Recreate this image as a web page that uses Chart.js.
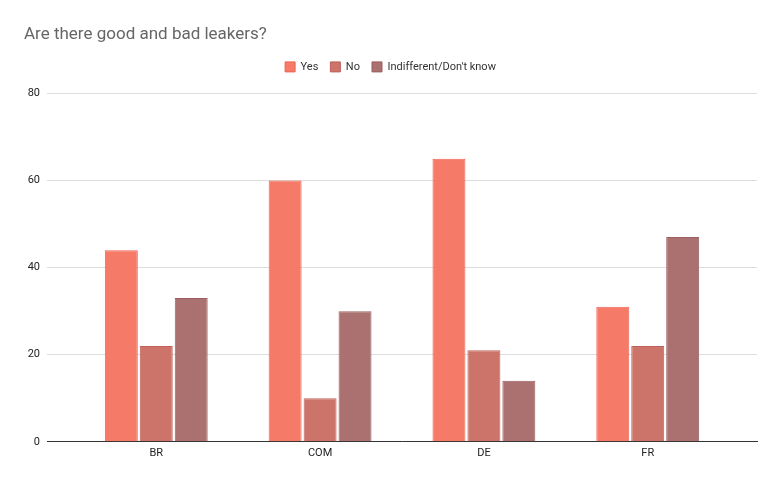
<!DOCTYPE html>
<html>
<head>
<meta charset="utf-8">
<script src="https://cdn.jsdelivr.net/npm/chart.js@4/dist/chart.umd.min.js"></script>
<style>
  html, body { margin: 0; padding: 0; background: #fff; }
  #wrap { width: 782px; height: 483px; }
</style>
</head>
<body>
<div id="wrap"><canvas id="chart"></canvas></div>
<script>
const categories = ["BR", "COM", "DE", "FR"];
const yesValues = [44, 60, 65, 31];
const noValues = [22, 10, 21, 22];
const indifferentValues = [33, 30, 14, 47];
const yTicks = [0, 20, 40, 60, 80];

const font = "Roboto, Arial, sans-serif";
const xSidePad = 0.167; // empty room left/right of the groups, in category units

function makeSet(label, data, fill, border) {
    return {
        label,
        data,
        backgroundColor: fill,
        borderColor: border,
        borderWidth: 1,
        categoryPercentage: 0.64,
        barPercentage: 0.943,
    };
}

// extra space under the legend
const legendGap = {
    id: "legendGap",
    beforeInit(chart) {
        if (!chart.legend) return;
        const legendFit = chart.legend.fit;
        chart.legend.fit = function () {
            legendFit.call(this);
            this.height += 11;
        };
    },
};

const ctx = document.getElementById("chart").getContext("2d");
new Chart(ctx, {
    type: "bar",
    data: {
        labels: categories,
        datasets: [
            makeSet("Yes", yesValues, "rgb(246,122,104)", "rgb(238,100,86)"),
            makeSet("No", noValues, "rgb(205,116,106)", "rgb(192,96,88)"),
            makeSet("Indifferent/Don't know", indifferentValues, "rgb(171,113,113)", "rgb(156,94,96)"),
        ],
    },
    options: {
        responsive: true,
        maintainAspectRatio: false,
        animation: false,
        layout: { padding: { left: 24, right: 25, top: 25, bottom: 18 } },
        plugins: {
            title: {
                display: true,
                text: "Are there good and bad leakers?",
                align: "start",
                color: "#666",
                font: { family: font, size: 17, weight: "normal" },
                padding: { top: 0, bottom: 4 },
            },
            legend: {
                position: "top",
                labels: {
                    boxWidth: 10,
                    boxHeight: 10,
                    color: "#333",
                    font: { family: font, size: 11 },
                    padding: 12,
                },
            },
            tooltip: { enabled: false },
        },
        scales: {
            x: {
                // widen the x range so the groups sit inside the grid like the original
                afterBuildTicks: (scale) => {
                    scale._startValue -= xSidePad;
                    scale._valueRange += 2 * xSidePad;
                },
                grid: { display: false, drawTicks: false },
                border: { color: "#333", width: 1 },
                ticks: { color: "#222", font: { family: font, size: 11 }, padding: 5 },
            },
            y: {
                min: 0,
                max: 80,
                afterBuildTicks: (scale) => {
                    scale.ticks = yTicks.map((v) => ({ value: v }));
                },
                afterFit: (scale) => {
                    scale.width = 23;
                },
                grid: { color: "#ddd", drawTicks: false },
                border: { display: false },
                ticks: { color: "#222", font: { family: font, size: 11 }, padding: 7 },
            },
        },
    },
    plugins: [legendGap],
});
</script>
</body>
</html>
